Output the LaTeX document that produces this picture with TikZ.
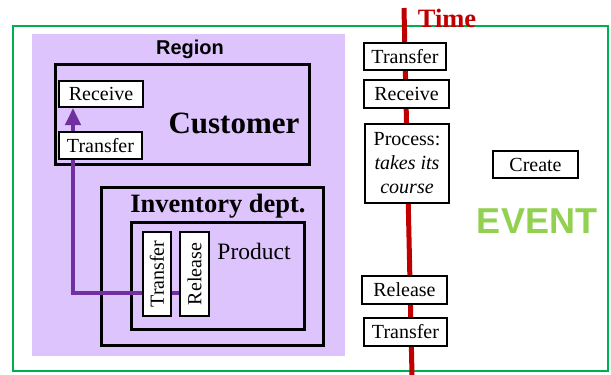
\documentclass[tikz,border=0pt]{standalone}
\usepackage{fontspec}
\setmainfont{Liberation Serif}
\setsansfont{Liberation Sans}
\usetikzlibrary{arrows.meta}

\definecolor{lavender}{RGB}{221,196,252}
\definecolor{flowpurple}{RGB}{112,48,160}
\definecolor{timered}{RGB}{192,0,0}
\definecolor{framegreen}{RGB}{0,176,80}
\definecolor{eventgreen}{RGB}{146,208,80}

\pgfdeclarelayer{bg}
\pgfdeclarelayer{flow}
\pgfsetlayers{bg,flow,main}

\tikzset{
	evbox/.style={draw=black, line width=2pt, fill=white, inner sep=0pt,
		font=\fontsize{20}{24}\selectfont},
	unitbox/.style={draw=black, line width=3.2pt, inner sep=0pt},
	flowline/.style={draw=flowpurple, line width=4pt,
		-{Triangle[length=17pt,width=15pt]}},
}

\begin{document}
\begin{tikzpicture}[x=1pt, y=-1pt]

	\useasboundingbox (0,0) rectangle (611,375);

	\begin{pgfonlayer}{bg}
	\draw[framegreen, line width=1.5pt] (13,26) rectangle (608,371);
	\fill[lavender] (32,34) rectangle (345,356);
	\node[unitbox, minimum width=254, minimum height=100] (cust) at (182.5,114.5) {};
	\node[unitbox, minimum width=222, minimum height=158] (inv) at (212.5,266.5) {};
	\node[unitbox, minimum width=173, minimum height=107] (prod) at (218,276) {};
	\end{pgfonlayer}

	\node[font=\sffamily\bfseries\fontsize{20}{24}\selectfont] (region) at (190,49) {Region};
	\node[font=\bfseries\fontsize{31}{36}\selectfont] (custlabel) at (234,123) {Customer};
	\node[font=\bfseries\fontsize{26.5}{30}\selectfont] (invlabel) at (218,206) {Inventory dept.};
	\node[font=\fontsize{23.5}{28}\selectfont, anchor=base] (prodlabel) at (254,259) {Product};

	% events inside the region
	\node[evbox, minimum width=84, minimum height=26] (recvL) at (101,94) {Receive};
	\node[evbox, minimum width=83, minimum height=27] (trfL) at (100.5,145.5) {Transfer};
	\node[evbox, rotate=90, minimum width=84, minimum height=28] (trfV) at (157,274) {Transfer};
	\node[evbox, rotate=90, minimum width=84, minimum height=29] (relV) at (194.5,274) {Release};

	% events along the time line
	\node[evbox, minimum width=82, minimum height=27] (trfT) at (405,56.5) {Transfer};
	\node[evbox, minimum width=85, minimum height=28] (recvT) at (406.5,94) {Receive};
	\node[evbox, minimum width=84, minimum height=79, align=center] (proc) at (407,163.5)
		{Process:\\\itshape takes its\\\itshape course};
	\node[evbox, minimum width=85, minimum height=28] (relT) at (404.5,290) {Release};
	\node[evbox, minimum width=83, minimum height=28] (trfB) at (405.5,332) {Transfer};
	\node[evbox, minimum width=85, minimum height=27] (create) at (535.5,164.5) {Create};

	\node[font=\bfseries\fontsize{26.5}{30}\selectfont, text=timered, anchor=base] (time) at (447,27) {Time};
	\node[font=\sffamily\bfseries\fontsize{36}{40}\selectfont, text=eventgreen, anchor=base] (event) at (537,233) {EVENT};

	\coordinate (ttop) at (404,8);
	\coordinate (tbot) at (412,375);
	\coordinate (bend) at (73,293);

	\begin{pgfonlayer}{flow}
	\draw[timered, line width=5pt] (ttop) -- (tbot);
	\draw[flowline] (relV.north |- bend) -- (bend) -- (bend |- recvL.south);
	\end{pgfonlayer}

\end{tikzpicture}
\end{document}
